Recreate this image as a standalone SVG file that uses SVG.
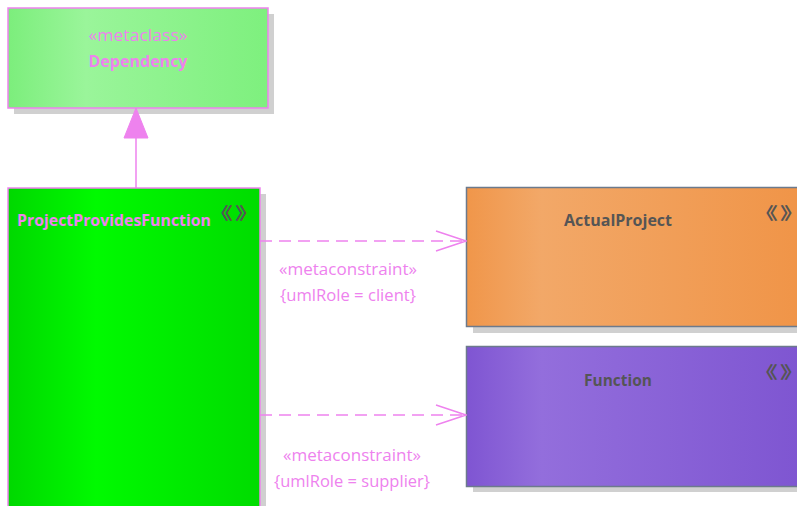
<svg xmlns="http://www.w3.org/2000/svg" width="797" height="506" viewBox="0 0 797 506">
<defs>
<linearGradient id="gDep" x1="0" y1="0" x2="1" y2="0">
<stop offset="0" stop-color="#7CEE7C"/><stop offset="0.3" stop-color="#9AF59A"/><stop offset="1" stop-color="#7EF07E"/>
</linearGradient>
<linearGradient id="gPPF" x1="0" y1="0" x2="1" y2="0">
<stop offset="0" stop-color="#00D800"/><stop offset="0.35" stop-color="#00FA00"/><stop offset="1" stop-color="#00DC00"/>
</linearGradient>
<linearGradient id="gAP" x1="0" y1="0" x2="1" y2="0">
<stop offset="0" stop-color="#F0964A"/><stop offset="0.22" stop-color="#F2A868"/><stop offset="1" stop-color="#F09447"/>
</linearGradient>
<linearGradient id="gFn" x1="0" y1="0" x2="1" y2="0">
<stop offset="0" stop-color="#7F55D2"/><stop offset="0.22" stop-color="#936EDC"/><stop offset="1" stop-color="#7E55D1"/>
</linearGradient>
<marker id="open" markerWidth="32" markerHeight="24" refX="31" refY="11" orient="auto" markerUnits="userSpaceOnUse">
<path d="M1,1 L31,11 L1,21" fill="none" stroke="#EE82EE" stroke-width="1.5"/>
</marker>
</defs>
<style>
.shadow{fill:#D0D0D0}
.pink{stroke:#EE82EE;stroke-width:1.5}
.gray{stroke:#6C7A8C;stroke-width:1.5}
.lbl{font-family:"Open Sans","Liberation Sans",Arial,sans-serif;fill:#EE82EE;font-size:15.5px}
.bold{font-weight:bold}
.dark{fill:#555555}
.chev{font-family:"Noto Sans CJK SC","Noto Sans CJK JP",sans-serif;fill:#555555;font-size:17px;font-weight:bold;letter-spacing:1.5px}
.conn{fill:none;stroke:#EE82EE;stroke-width:1.5;stroke-dasharray:12,7}
</style>
<rect width="797" height="506" fill="#FFFFFF"/>
<g id="Dependency">
<rect class="shadow" x="14" y="14" width="260" height="100"/>
<rect x="8" y="8" width="260" height="100" fill="url(#gDep)" class="pink"/>
<text class="lbl" x="138" y="41" text-anchor="middle" textLength="99" lengthAdjust="spacingAndGlyphs">«metaclass»</text>
<text class="lbl bold" x="138" y="67" text-anchor="middle" textLength="99" lengthAdjust="spacingAndGlyphs">Dependency</text>
</g>
<g id="ProjectProvidesFunction">
<rect class="shadow" x="14" y="194" width="252" height="320"/>
<rect x="8" y="188" width="252" height="330" fill="url(#gPPF)" class="pink"/>
<text class="lbl bold" x="17" y="226" textLength="194" lengthAdjust="spacingAndGlyphs">ProjectProvidesFunction</text>
<text class="chev" transform="translate(209,220) scale(1.4,1)">《》</text>
</g>
<g id="ActualProject">
<rect class="shadow" x="473" y="194" width="330" height="139"/>
<rect x="466.5" y="187.5" width="340" height="139" fill="url(#gAP)" class="gray"/>
<text class="lbl bold dark" x="618" y="226" text-anchor="middle" textLength="108" lengthAdjust="spacingAndGlyphs">ActualProject</text>
<text class="chev" transform="translate(754,220) scale(1.4,1)">《》</text>
</g>
<g id="Function">
<rect class="shadow" x="473" y="352" width="330" height="140"/>
<rect x="466.5" y="346.5" width="340" height="140" fill="url(#gFn)" class="gray"/>
<text class="lbl bold dark" x="618" y="386" text-anchor="middle" textLength="68" lengthAdjust="spacingAndGlyphs">Function</text>
<text class="chev" transform="translate(754,379) scale(1.4,1)">《》</text>
</g>
<g id="connectors">
<line x1="136" y1="188" x2="136" y2="138" class="pink"/>
<polygon points="136,108 124,138 148,138" fill="#EE82EE" stroke="#EE82EE" stroke-width="1"/>
<line x1="260" y1="241" x2="466" y2="241" class="conn" marker-end="url(#open)"/>
<line x1="260" y1="415" x2="466" y2="415" class="conn" marker-end="url(#open)"/>
<text class="lbl" x="348" y="275" text-anchor="middle" textLength="138" lengthAdjust="spacingAndGlyphs">«metaconstraint»</text>
<text class="lbl" x="348" y="301" text-anchor="middle" textLength="136" lengthAdjust="spacingAndGlyphs">{umlRole = client}</text>
<text class="lbl" x="352" y="461" text-anchor="middle" textLength="138" lengthAdjust="spacingAndGlyphs">«metaconstraint»</text>
<text class="lbl" x="352" y="487" text-anchor="middle" textLength="156" lengthAdjust="spacingAndGlyphs">{umlRole = supplier}</text>
</g>
</svg>
